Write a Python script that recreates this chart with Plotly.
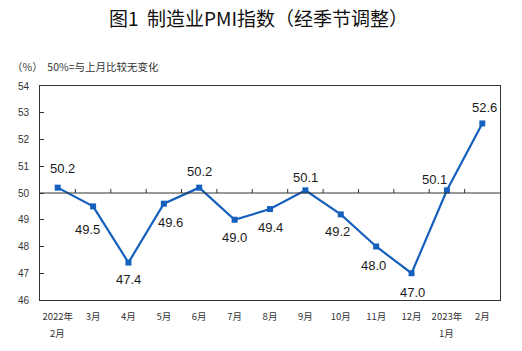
import plotly.graph_objects as go

months = ["2022年", "3月", "4月", "5月", "6月", "7月", "8月", "9月",
          "10月", "11月", "12月", "2023年", "2月"]
month_line2 = ["2月", "", "", "", "", "", "", "", "", "", "", "1月", ""]
pmi = [50.2, 49.5, 47.4, 49.6, 50.2, 49.0, 49.4, 50.1, 49.2, 48.0, 47.0, 50.1, 52.6]
y_ticks = [46, 47, 48, 49, 50, 51, 52, 53, 54]

# label offsets (pixels) per point
lab_dx = [5, -6, 0, 7, 0, 0, 0, 0, -3, -3, 1, -12, 2]
lab_dy = [19, -23, -17, -19, 16, -18, -18, 13, -17, -19, -19, 11, 16]

x_idx = list(range(len(months)))
fig = go.Figure()
fig.add_trace(go.Scatter(
    x=x_idx, y=pmi, mode="lines+markers",
    line=dict(color="#1560BD", width=2.2),
    marker=dict(symbol="square", size=6, color="#1560BD"),
    hoverinfo="skip", showlegend=False,
))

for i, v in enumerate(pmi):
    fig.add_annotation(x=i, y=v, text=f"{v:.1f}", showarrow=False,
                       xshift=lab_dx[i], yshift=lab_dy[i],
                       font=dict(family="Liberation Sans, Arial", size=13, color="#1a1a1a"))

# second line of the year-start tick labels
for i, t in enumerate(month_line2):
    if t:
        fig.add_annotation(x=i, y=0, xref="x", yref="paper", text=t, showarrow=False,
                           yanchor="top", yshift=-24,
                           font=dict(family="Noto Sans CJK SC", size=9.5, color="#333"))

# 50 reference line with upward tick marks at category boundaries
fig.add_shape(type="line", xref="paper", yref="y", x0=0, x1=1, y0=50, y1=50,
              line=dict(color="#333", width=1))
for i in range(len(months) - 1):
    fig.add_shape(type="line", xref="x", yref="y", x0=i + 0.5, x1=i + 0.5,
                  y0=50, y1=50.15, line=dict(color="#333", width=1))

fig.add_annotation(text="图1  制造业PMI指数（经季节调整）", xref="paper", yref="paper",
                   x=0.5, y=1, xanchor="center", yanchor="bottom", showarrow=False,
                   xshift=-12, yshift=53,
                   font=dict(family="Noto Sans CJK SC", size=19, color="#111"))
fig.add_annotation(text="（%）  50%=与上月比较无变化", xref="paper", yref="paper",
                   x=0, y=1, xanchor="left", yanchor="bottom", showarrow=False,
                   xshift=-30, yshift=10,
                   font=dict(family="Noto Sans CJK SC", size=10.5, color="#333"))

fig.update_layout(
    width=522, height=351,
    margin=dict(l=40, r=22, t=86, b=51),
    paper_bgcolor="white", plot_bgcolor="white",
    xaxis=dict(
        tickmode="array", tickvals=x_idx, ticktext=months,
        range=[-0.5, len(months) - 0.5],
        showgrid=False, zeroline=False, showline=True, mirror=True,
        linecolor="#333", linewidth=1, ticks="",
        tickfont=dict(family="Noto Sans CJK SC", size=9.5, color="#333"),
        ticklabelstandoff=8,
    ),
    yaxis=dict(
        range=[46, 54], tickvals=y_ticks,
        showgrid=False, zeroline=False, showline=True, mirror=True,
        linecolor="#333", linewidth=1, ticks="inside", ticklen=4, tickcolor="#333",
        tickfont=dict(family="Liberation Sans, Arial", size=10, color="#333"),
        ticklabelstandoff=8,
    ),
)

fig.write_html("out.html")
